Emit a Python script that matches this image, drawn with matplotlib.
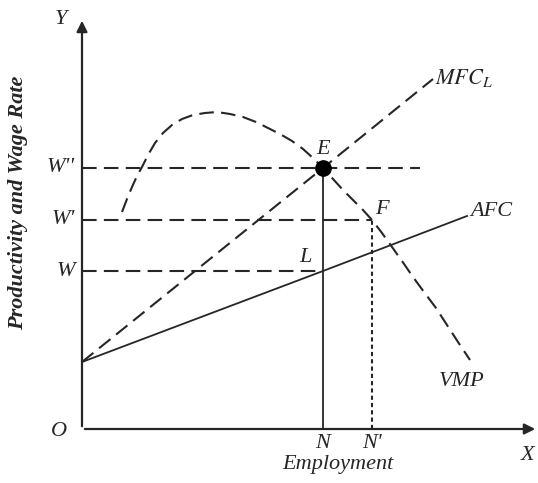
import numpy as np
import matplotlib
matplotlib.use('Agg')
import matplotlib.pyplot as plt

plt.rcParams['mathtext.fontset'] = 'stix'
plt.rcParams['font.family'] = ['Liberation Serif', 'DejaVu Serif']

# curve data (arbitrary units)
afc_x = [0.0, 24.1, 38.5]
afc_y = [6.7, 15.8, 21.3]

mfc_x = [0.0, 24.1, 35.1]
mfc_y = [6.7, 26.1, 35.0]

vmp_x = [4.0, 4.5, 5.0, 5.5, 6.0, 6.6, 7.3, 8.1, 9.0, 10.0, 11.1, 12.3, 13.5,
         14.8, 16.1, 17.4, 18.6, 19.8, 21.0, 22.1, 23.1, 24.1, 25.1, 26.1,
         27.1, 28.1, 29.0, 30.0, 31.0, 32.0, 33.1, 34.2, 35.4, 36.5, 37.6, 38.8]
vmp_y = [21.7, 23.0, 24.2, 25.3, 26.2, 27.4, 28.6, 29.6, 30.4, 31.0, 31.4, 31.6, 31.7,
         31.5, 31.2, 30.7, 30.1, 29.5, 28.8, 28.0, 27.1, 26.1, 25.0, 23.9,
         22.9, 21.9, 20.9, 19.6, 18.2, 16.8, 15.2, 13.7, 12.1, 10.4, 8.7, 6.9]

# wage levels and employment levels
wages = {"W''": 26.1, "W'": 20.9, "W": 15.8}
n_emp = 24.1
n_emp2 = 29.0

col = '#262626'
dash = (0, (7, 3.5))

fig = plt.figure(figsize=(5.38, 4.83), dpi=100)
ax = fig.add_axes([0, 0, 1, 1])
ax.set_xlim(-8.2, 45.6)
ax.set_ylim(-5.4, 42.9)
ax.axis('off')

# axes with arrows
ax.annotate('', xy=(45.6, 0), xytext=(0, 0),
            arrowprops=dict(arrowstyle='-|>', color=col, lw=1.6, mutation_scale=16))
ax.annotate('', xy=(0, 41.1), xytext=(0, 0),
            arrowprops=dict(arrowstyle='-|>', color=col, lw=1.6, mutation_scale=16))

# curves
ax.plot(afc_x, afc_y, color=col, lw=1.3)
ax.plot(mfc_x, mfc_y, color=col, lw=1.5, linestyle=dash)
ax.plot(vmp_x, vmp_y, color=col, lw=1.5, linestyle=dash)

# guide lines
ax.plot([0, 33.8], [wages["W''"]] * 2, color=col, lw=1.5, linestyle=dash)
ax.plot([0, n_emp2], [wages["W'"]] * 2, color=col, lw=1.5, linestyle=dash)
ax.plot([0, n_emp], [wages["W"]] * 2, color=col, lw=1.5, linestyle=dash)
ax.plot([n_emp, n_emp], [0, wages["W''"]], color=col, lw=1.3)
ax.plot([n_emp2, n_emp2], [0, wages["W'"]], color=col, lw=1.5, linestyle=(0, (2, 1.5)))
ax.plot([n_emp], [wages["W''"]], 'o', color='black', markersize=11)

tk = dict(color=col, fontsize=16, style='italic')
for lab, val in wages.items():
    ax.text(-0.7, val, lab, ha='right', va='center', **tk)
ax.text(-1.5, 40.9, 'Y', ha='right', va='center', **tk)
ax.text(-1.5, -0.2, 'O', ha='right', va='center', **tk)
ax.text(44.6, -2.6, 'X', ha='center', va='center', **tk)
ax.text(n_emp, -1.4, 'N', ha='center', va='center', **tk)
ax.text(n_emp2, -1.4, "N'", ha='center', va='center', **tk)
ax.text(25.6, -3.6, 'Employment', ha='center', va='center', **tk)
ax.text(24.1, 27.9, 'E', ha='center', va='center', **tk)
ax.text(30.0, 21.9, 'F', ha='center', va='center', **tk)
ax.text(22.3, 17.1, 'L', ha='center', va='center', **tk)
ax.text(38.8, 21.7, 'AFC', ha='left', va='center', **tk)
ax.text(35.3, 35.1, r'$MFC_L$', ha='left', va='center', color=col, fontsize=16)
ax.text(38.0, 4.7, 'VMP', ha='center', va='center', **tk)
ax.text(-6.4, 22.6, 'Productivity and Wage Rate', rotation=90, ha='center',
        va='center', fontweight='bold', **tk)

fig.savefig('out.png', dpi=100)
